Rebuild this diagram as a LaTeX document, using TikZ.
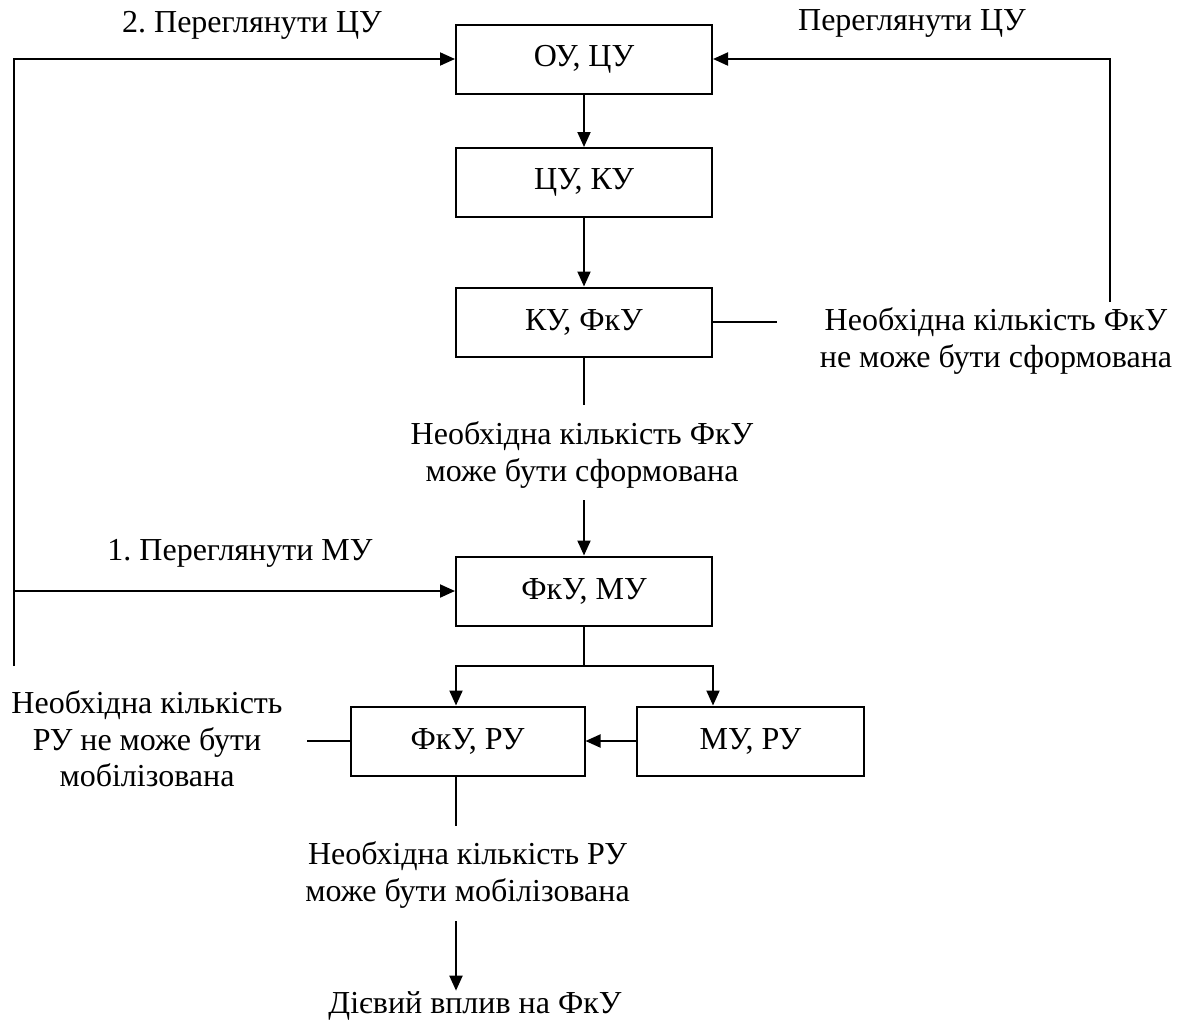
\documentclass[tikz,border=0pt]{standalone}
\usepackage{fontspec}
\setmainfont{Liberation Serif}
\usetikzlibrary{positioning,calc,arrows.meta}
\frenchspacing

\begin{document}
\begin{tikzpicture}[x=0.5pt,y=-0.5pt,line width=1pt,>={Triangle[length=7.5pt,width=6.5pt]},
    font=\fontsize{16}{18.3}\selectfont]
    \tikzset{
      block/.style={draw,shape=rectangle,minimum width=128pt,minimum height=34.5pt,inner sep=0pt},
      note/.style={align=center,inner sep=0pt}
    }
    \useasboundingbox (0,0) rectangle (1181,1023);
    \node[block] (ou_cu) at (584,59) {ОУ, ЦУ};
    \node[block] (cu_ku) at (584,182.5) {ЦУ, КУ};
    \node[block] (ku_fku) at (584,322) {КУ, ФкУ};
    \node[block] (fku_mu) at (584,591) {ФкУ, МУ};
    \node[block,minimum width=117pt] (fku_ru) at (467.5,741) {ФкУ, РУ};
    \node[block,minimum width=113.5pt] (mu_ru) at (750.5,741) {МУ, РУ};
    %
    \node[note] (review_cu_l) at (252,25) {2. Переглянути ЦУ};
    \node[note] (review_cu_r) at (912,23) {Переглянути ЦУ};
    \node[note] (fku_no) at (996,341) {Необхідна кількість ФкУ\\не може бути сформована};
    \node[note] (fku_yes) at (582,455) {Необхідна кількість ФкУ\\може бути сформована};
    \node[note] (review_mu) at (240,553) {1. Переглянути МУ};
    \node[note] (ru_no) at (147,739) {Необхідна кількість\\РУ не може бути\\мобілізована};
    \node[note] (ru_yes) at (467.5,875) {Необхідна кількість РУ\\може бути мобілізована};
    \node[note] (effect) at (475,1006) {Дієвий вплив на ФкУ};
    %
    \coordinate (fku_no_end) at (777,322);
    \coordinate (cu_turn) at (1110,302);
    \coordinate (fku_yes_top) at (584,405);
    \coordinate (fku_yes_bot) at (584,500);
    \coordinate (left_end) at (14,666);
    \coordinate (branch) at (584,666);
    \coordinate (ru_no_end) at (307,741);
    \coordinate (ru_yes_top) at (456,826);
    \coordinate (ru_yes_bot) at (456,921);
    %
    \draw[->] (ou_cu) -- (cu_ku);
    \draw[->] (cu_ku) -- (ku_fku);
    \draw (ku_fku.east) -- (fku_no_end);
    \draw[->] (cu_turn) |- (ou_cu.east);
    \draw (ku_fku.south) -- (fku_yes_top);
    \draw[->] (fku_yes_bot) -- (fku_mu);
    \draw[->] (left_end) |- (ou_cu.west);
    \draw[->] (left_end |- fku_mu.west) -- (fku_mu.west);
    %
    \draw (fku_mu.south) -- (branch);
    \draw[->] (branch) -| (ru_yes_top |- fku_ru.north);
    \draw[->] (branch) -| (fku_mu.east |- mu_ru.north);
    \draw[->] (mu_ru) -- (fku_ru);
    \draw (fku_ru.west) -- (ru_no_end);
    \draw (ru_yes_top |- fku_ru.south) -- (ru_yes_top);
    \draw[->] (ru_yes_bot) -- (ru_yes_bot |- effect.north);
\end{tikzpicture}
\end{document}
